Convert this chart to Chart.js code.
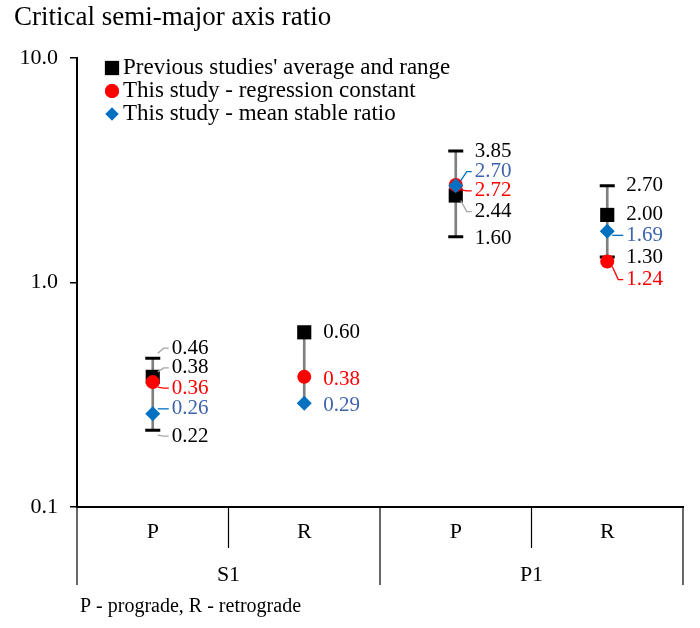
<!DOCTYPE html>
<html>
<head>
<meta charset="utf-8">
<script src="https://cdn.jsdelivr.net/npm/chart.js@4.4.1/dist/chart.umd.min.js"></script>
<style>
  html, body { margin: 0; padding: 0; background: #fff; }
  #wrap { width: 700px; height: 628px; }
</style>
</head>
<body>
<div id="wrap"><canvas id="chart"></canvas></div>
<script>
// Chart values
const categories = ['P', 'R', 'P', 'R'];
const groups = ['S1', 'P1'];
const prevAverage = [0.38, 0.60, 2.44, 2.00];
const prevMax = [0.46, null, 3.85, 2.70];
const prevMin = [0.22, null, 1.60, 1.30];
const regression = [0.36, 0.38, 2.72, 1.24];
const meanStable = [0.26, 0.29, 2.70, 1.69];
const yTicks = [0.1, 1, 10];

const FONT = "'Liberation Serif', 'Times New Roman', serif";
const RED = '#FF0000';
const BLUE = '#0070C0';
const BLUE_TEXT = '#3E64AE';

// high-low line spans every value in a category
const rangeLines = categories.map((c, i) => {
    const vals = [prevAverage[i], prevMax[i], prevMin[i], regression[i], meanStable[i]].filter(v => v != null);
    return [Math.min(...vals), Math.max(...vals)];
});

// label placement (pixel offsets from the point) and leader lines
const labelStyle = {
    max: { dy: [-10, 0, 0, 0], leader: [true, false, false, false], color: '#000', leaderColor: '#A6A6A6' },
    avg: { dy: [-9, 0, 16, 0], leader: [true, false, true, false], color: '#000', leaderColor: '#A6A6A6' },
    reg: { dy: [6, 3, 6, 18], leader: [true, false, true, true], color: RED, leaderColor: RED },
    mean: { dy: [-5, 2, -14, 4], leader: [true, false, true, true], color: BLUE_TEXT, leaderColor: BLUE },
    min: { dy: [6, 0, 2, 1], leader: [true, false, false, false], color: '#000', leaderColor: '#A6A6A6' }
};

const extrasPlugin = {
    id: 'extras',
    afterDatasetsDraw(chart) {
        const ctx = chart.ctx;
        ctx.save();
        ctx.font = '21px ' + FONT;
        ctx.textBaseline = 'middle';
        ctx.textAlign = 'left';
        chart.data.datasets.forEach((ds, di) => {
            const st = labelStyle[ds.key];
            if (!st) return;
            const meta = chart.getDatasetMeta(di);
            meta.data.forEach((pt, i) => {
                const v = ds.data[i];
                if (v == null) return;
                const px = pt.x, py = pt.y;
                const lx = px + 19, ly = py + st.dy[i];
                if (st.leader[i]) {
                    const sy = Math.max(-5, Math.min(5, st.dy[i]));
                    ctx.strokeStyle = st.leaderColor;
                    ctx.lineWidth = 1.3;
                    ctx.beginPath();
                    ctx.moveTo(px + 5, py + sy);
                    ctx.lineTo(lx - 8, ly);
                    ctx.lineTo(lx - 3, ly);
                    ctx.stroke();
                }
                ctx.fillStyle = st.color;
                ctx.fillText(v.toFixed(2), lx, ly);
            });
        });
        ctx.restore();
    },
    afterDraw(chart) {
        const ctx = chart.ctx;
        const area = chart.chartArea;
        const x = chart.scales.x;
        ctx.save();

        // title
        ctx.fillStyle = '#000';
        ctx.font = '27px ' + FONT;
        ctx.textBaseline = 'middle';
        ctx.textAlign = 'left';
        ctx.fillText('Critical semi-major axis ratio', 14, 18);

        // legend
        const legendItems = [
            { text: "Previous studies' average and range", style: 'rect', color: '#000', r: 10 },
            { text: 'This study - regression constant', style: 'circle', color: RED, r: 7 },
            { text: 'This study - mean stable ratio', style: 'rectRot', color: BLUE, r: 6.5 }
        ];
        ctx.font = '23px ' + FONT;
        legendItems.forEach((it, k) => {
            const cy = 68 + k * 23;
            ctx.fillStyle = it.color;
            Chart.helpers.drawPoint(ctx, { pointStyle: it.style, radius: it.r, borderWidth: 0 }, 112, cy);
            ctx.fill();
            ctx.fillStyle = '#000';
            ctx.fillText(it.text, 123, cy);
        });

        // category separators
        const bounds = [area.left];
        for (let i = 0; i < categories.length - 1; i++) {
            bounds.push((x.getPixelForValue(i) + x.getPixelForValue(i + 1)) / 2);
        }
        bounds.push(area.right);
        ctx.strokeStyle = '#000';
        ctx.lineWidth = 1.2;
        bounds.forEach((bx, i) => {
            const outer = i % 2 === 0;
            ctx.beginPath();
            ctx.moveTo(bx, area.bottom);
            ctx.lineTo(bx, outer ? 585 : 548);
            ctx.stroke();
        });

        // group labels
        ctx.font = '22px ' + FONT;
        ctx.textAlign = 'center';
        ctx.fillStyle = '#000';
        groups.forEach((g, k) => {
            ctx.fillText(g, (bounds[k * 2] + bounds[k * 2 + 2]) / 2, 575);
        });

        // footnote
        ctx.font = '20px ' + FONT;
        ctx.textAlign = 'left';
        ctx.fillText('P - prograde, R - retrograde', 80, 607);
        ctx.restore();
    }
};

const ctx = document.getElementById('chart').getContext('2d');
new Chart(ctx, {
    data: {
        labels: categories,
        datasets: [
            {
                type: 'bar', key: 'range', data: rangeLines,
                backgroundColor: '#7F7F7F', barThickness: 2, order: 10
            },
            {
                type: 'line', key: 'max', data: prevMax, showLine: false,
                pointStyle: 'line', pointRadius: 7.5, borderColor: '#000', borderWidth: 3, order: 6
            },
            {
                type: 'line', key: 'min', data: prevMin, showLine: false,
                pointStyle: 'line', pointRadius: 7.5, borderColor: '#000', borderWidth: 3, order: 6
            },
            {
                type: 'line', key: 'avg', data: prevAverage, showLine: false,
                pointStyle: 'rect', pointRadius: 10, backgroundColor: '#000', borderWidth: 0, order: 3
            },
            {
                type: 'line', key: 'reg', data: regression, showLine: false,
                pointStyle: 'circle', pointRadius: 7, backgroundColor: RED, borderWidth: 0, order: 2
            },
            {
                type: 'line', key: 'mean', data: meanStable, showLine: false,
                pointStyle: 'rectRot', pointRadius: 7.5, backgroundColor: BLUE, borderWidth: 0, order: 1
            }
        ]
    },
    options: {
        responsive: true,
        maintainAspectRatio: false,
        devicePixelRatio: 1,
        animation: false,
        layout: { padding: { top: 58, right: 17, bottom: 0, left: 0 } },
        plugins: {
            legend: { display: false },
            tooltip: { enabled: false }
        },
        scales: {
            x: {
                type: 'category',
                offset: true,
                grid: { display: false, drawTicks: false },
                border: { color: '#000', width: 2 },
                ticks: { color: '#000', font: { family: FONT, size: 22 }, padding: 12, maxRotation: 0 },
                afterFit: s => { s.height = 121; }
            },
            y: {
                type: 'logarithmic',
                min: 0.1,
                max: 10,
                afterBuildTicks: s => { s.ticks = yTicks.map(v => ({ value: v })); },
                grid: { drawOnChartArea: false, tickLength: 7, color: '#000', lineWidth: 1.5 },
                border: { color: '#000', width: 2 },
                ticks: {
                    color: '#000',
                    font: { family: FONT, size: 22 },
                    padding: 12,
                    callback: v => Number(v).toFixed(1)
                },
                afterFit: s => { s.width = 77; }
            }
        }
    },
    plugins: [extrasPlugin]
});
</script>
</body>
</html>
